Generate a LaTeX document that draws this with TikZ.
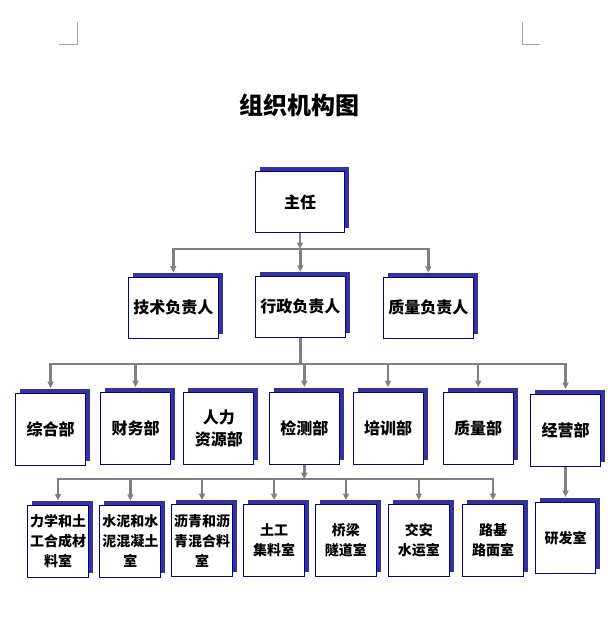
\documentclass[tikz,border=0pt]{standalone}
\usepackage{fontspec}
\newfontfamily\cjk{Noto Sans CJK SC}
\usetikzlibrary{arrows.meta,shadows}
\definecolor{boxblue}{RGB}{0,0,153}
\definecolor{shadeblue}{RGB}{51,51,153}
\definecolor{linkgray}{RGB}{128,128,128}

\begin{document}
\begin{tikzpicture}[x=1pt,y=-1pt,every node/.style={align=center,font=\cjk\bfseries\fontsize{16}{22}\selectfont},
unit/.style={draw=boxblue,fill=white,line width=0.9pt,inner sep=0pt,drop shadow={shadow xshift=4.5pt,shadow yshift=4.5pt,fill=shadeblue,opacity=1}},
lead/.style={unit,minimum width=90pt,minimum height=61pt},
dept/.style={unit,minimum width=70pt,minimum height=72pt},
room/.style={unit,minimum width=61pt,minimum height=72pt,font=\cjk\bfseries\fontsize{14}{20}\selectfont},
link/.style={draw=linkgray,line width=2.4pt},
bar/.style={link,line cap=rect},
feed/.style={link,-{Triangle[length=6.5pt,width=6pt]}}
]
\useasboundingbox (0,0) rectangle (615,626);
\draw[linkgray!70,line width=0.7pt] (58.8,43.9) -- (77.6,43.9) -- (77.6,22.4);
\draw[linkgray!70,line width=0.7pt] (522.4,22.4) -- (522.4,43.9) -- (540.4,43.9);
\node[font=\cjk\bfseries\fontsize{24}{28}\selectfont] (title) at (299.5,105) {组织机构图};
% level 1 and 2
\node[lead,minimum width=89pt] (zr) at (300,202) {主任};
\node[lead] (js) at (173.3,307.5) {技术负责人};
\node[lead] (xz) at (300.3,306.7) {行政负责人};
\node[lead] (zl) at (428.3,307.7) {质量负责人};
% level 3
\node[dept] (zh) at (50.6,429.6) {综合部};
\node[dept] (cw) at (135.5,428.6) {财务部};
\node[dept] (rl) at (218.8,428.6) {人力\\资源部};
\node[dept] (jc) at (304.3,428.6) {检测部};
\node[dept] (px) at (388,428.6) {培训部};
\node[dept] (zlb) at (478.2,428.6) {质量部};
\node[dept] (jy) at (565.5,430.5) {经营部};
% level 4
\node[room] (lx) at (58,541) {力学和土\\工合成材\\料室};
\node[room] (sn) at (130.4,541.2) {水泥和水\\泥混凝土\\室};
\node[room] (lq) at (202,540.5) {沥青和沥\\青混合料\\室};
\node[room] (tg) at (274.1,540.5) {土工\\集料室};
\node[room] (ql) at (345.9,540.5) {桥梁\\隧道室};
\node[room] (ja) at (418.8,540.5) {交安\\水运室};
\node[room] (lj) at (493,540.5) {路基\\路面室};
\node[room,minimum width=60pt,minimum height=71pt] (yf) at (565.5,538) {研发室};
% connectors
\coordinate (b1) at (0,249);
\coordinate (b2) at (0,364);
\coordinate (b3) at (0,479.2);
\draw[feed] (zr) -- (zr |- b1);
\draw[bar] (js |- b1) -- (zl |- b1);
\foreach \n in {js,xz,zl} \draw[feed] (\n |- b1) -- ([yshift=4pt]\n.north);
\draw[link] (xz) -- (xz |- b2);
\draw[bar] (zh |- b2) -- (jy |- b2);
\foreach \n in {zh,cw,jc,px,zlb,jy} \draw[feed] (\n |- b2) -- ([yshift=5pt]\n.north);
\draw[feed] (jc) -- (jc |- b3);
\draw[bar] (lx |- b3) -- (lj |- b3);
\foreach \n in {lx,sn,lq,tg,ql,ja,lj} \draw[feed] (\n |- b3) -- ([yshift=4pt]\n.north);
\draw[feed] (jy) -- ([yshift=5pt]yf.north); % <- end links
\end{tikzpicture}
\end{document}
